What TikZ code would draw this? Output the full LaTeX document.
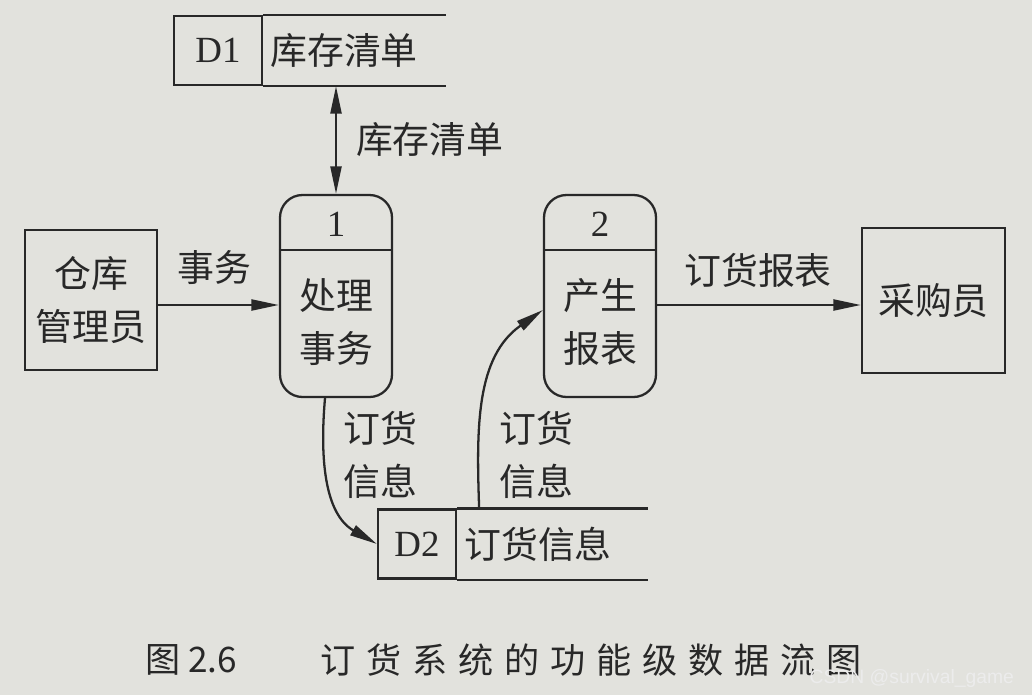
\documentclass[tikz,border=0pt]{standalone}
\usepackage{fontspec}
\setmainfont{Liberation Serif}
\newfontfamily\cjk{Noto Sans CJK SC}
\newfontfamily\wmfont{Liberation Sans}
\usetikzlibrary{arrows.meta}
\definecolor{paper}{RGB}{226,226,221}
\definecolor{ink}{RGB}{40,40,40}

\begin{document}
\begin{tikzpicture}[
        color=ink, line width=1.3pt,
        every node/.style={font=\fontsize{21}{27}\selectfont},
        ext/.style={draw, rectangle, align=center, font=\cjk\fontsize{21}{30}\selectfont},
        proc/.style={draw, rectangle, rounded corners=0.45cm, minimum width=2.24cm, minimum height=4.04cm},
        sid/.style={draw, rectangle, inner sep=0pt, minimum height=1.38cm},
        sname/.style={anchor=west, inner xsep=0.12cm, inner ysep=0pt, minimum height=1.38cm, align=left, font=\cjk\fontsize{21}{27}\selectfont},
        lbl/.style={font=\cjk\fontsize{21}{30}\selectfont, align=left},
        flow/.style={-{Triangle[length=5.5mm,width=2.2mm]}},
        both/.style={{Triangle[length=5.5mm,width=2.2mm]}-{Triangle[length=5.5mm,width=2.2mm]}}
    ]
            % Paper
            \fill[paper] (0,0) rectangle (20.64,13.9);
            \useasboundingbox (0,0) rectangle (20.64,13.9);

            % Draw nodes
            \node[ext, minimum width=2.64cm, minimum height=2.8cm] (w1) at (1.82,7.9) {仓库\\管理员};
            \node[ext, minimum width=2.86cm, minimum height=2.9cm] (b1) at (18.67,7.89) {采购员};

            \node[proc] (p1) at (6.72,7.98) {};
            \node[proc] (p2) at (12.0,7.98) {};
            \draw ([yshift=-1.12cm]p1.north west) -- ([yshift=-1.12cm]p1.north east);
            \draw ([yshift=-1.12cm]p2.north west) -- ([yshift=-1.12cm]p2.north east);
            \node (p1n) at ([yshift=-0.6cm]p1.north) {1};
            \node (p2n) at ([yshift=-0.6cm]p2.north) {2};
            \node[lbl, align=center] (p1t) at ([yshift=-0.52cm]p1.center) {处理\\事务};
            \node[lbl, align=center] (p2t) at ([yshift=-0.52cm]p2.center) {产生\\报表};

            \node[sid, minimum width=1.76cm] (d1id) at (4.36,12.89) {D1};
            \node[sname, text width=3.38cm] (d1) at (d1id.east) {库存清单};
            \draw (d1id.north east) -- (d1.north east);
            \draw (d1id.south east) -- (d1.south east);

            \node[sid, minimum width=1.56cm] (d2id) at (8.34,3.02) {D2};
            \node[sname, text width=3.54cm] (d2) at (d2id.east) {订货信息};
            \draw (d2id.north east) -- (d2.north east);
            \draw (d2id.south east) -- (d2.south east);

            % Draw connections
            \draw[both] (d1.south -| p1.north) -- (p1.north);
            \draw[flow] ([yshift=-0.1cm]w1.east) -- ([yshift=-0.1cm]w1.east -| p1.west);
            \draw[flow] ([yshift=-0.18cm]p2.east) -- ([yshift=-0.18cm]p2.east -| b1.west);
            \draw[flow] ([xshift=-0.22cm]p1.south) to[out=-95, in=150] (d2id.west);
            \draw[flow] ([xshift=0.44cm]d2.north west) to[out=92, in=215] ([yshift=-0.28cm]p2.west);

            % Labels
            \node[lbl, anchor=west] (l1) at (6.98,11.1) {库存清单};
            \node[lbl] (l2) at (4.28,8.54) {事务};
            \node[lbl] (l3) at (15.16,8.5) {订货报表};
            \node[lbl] (l4) at (7.6,4.8) {订货\\信息};
            \node[lbl] (l5) at (10.72,4.8) {订货\\信息};

            % Caption
            \node[font=\cjk\fontsize{20}{24}\selectfont] (cap1) at (3.82,0.7) {图 2.6};
            \node[font=\cjk\fontsize{20}{24}\selectfont\addfontfeatures{LetterSpace=31}] (cap2) at (11.82,0.7) {订货系统的功能级数据流图};
            \node[font=\wmfont\fontsize{11}{13}\selectfont, text=white!85!gray, anchor=east] (wm) at (20.42,0.34) {CSDN @survival\_game};
        \end{tikzpicture}
\end{document}
